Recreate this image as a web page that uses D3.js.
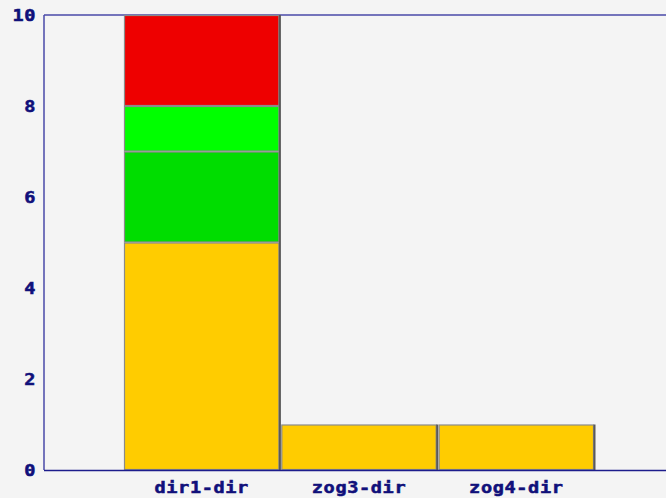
<!DOCTYPE html>
<html><head><meta charset="utf-8">
<script src="https://cdn.jsdelivr.net/npm/d3@7"></script>
<style>body{margin:0;background:#f4f4f4;}svg{display:block;}</style>
</head><body>
<script>
const categories = ["dir1-dir", "zog3-dir", "zog4-dir"];
const seriesNames = ["s1", "s2", "s3", "s4"];
const seriesColors = ["#ffcc00", "#00dd00", "#00ff00", "#ee0000"];
const s1 = [5, 1, 1];
const s2 = [2, 0, 0];
const s3 = [1, 0, 0];
const s4 = [2, 0, 0];
const yTicks = [0, 2, 4, 6, 8, 10];

const W = 666, H = 498;
const m = {left: 44, top: 15, right: 0, bottom: 28};
const svg = d3.select("body").append("svg").attr("width", W).attr("height", H);
svg.append("rect").attr("width", W).attr("height", H).attr("fill", "#f4f4f4");

const rows = categories.map((c, i) => ({cat: c, s1: s1[i], s2: s2[i], s3: s3[i], s4: s4[i]}));
const stack = d3.stack().keys(seriesNames)(rows);

const x = d3.scaleBand().domain(categories).range([124, 594]).paddingInner(0.012).paddingOuter(0);
const y = d3.scaleLinear().domain([0, 10]).range([470, 15]);

// frame
svg.append("line").attr("x1", m.left).attr("x2", W).attr("y1", 15).attr("y2", 15)
  .attr("stroke", "#4a4aa8").attr("stroke-width", 1.5);
svg.append("line").attr("x1", m.left).attr("x2", m.left).attr("y1", 15).attr("y2", 470)
  .attr("stroke", "#4a4aa8").attr("stroke-width", 1.5);

const g = svg.append("g");
stack.forEach((layer, li) => {
  layer.forEach((d, i) => {
    if (d[1] - d[0] <= 0) return;
    const x0 = x(categories[i]), w = x.bandwidth();
    g.append("rect")
      .attr("x", x0 + 0.5).attr("y", y(d[1]) + 0.5)
      .attr("width", w - 1).attr("height", y(d[0]) - y(d[1]) - 1)
      .attr("fill", seriesColors[li]).attr("stroke", "#8a8a8a").attr("stroke-width", 1.2);
  });
});
// right shadow per bar
categories.forEach((c, i) => {
  const tot = s1[i] + s2[i] + s3[i] + s4[i];
  g.append("rect").attr("x", x(c) + x.bandwidth() - 0.5).attr("y", y(tot))
    .attr("width", 2).attr("height", y(0) - y(tot)).attr("fill", "#5a5a5a");
});

// bottom axis
svg.append("line").attr("x1", m.left).attr("x2", W).attr("y1", 470.5).attr("y2", 470.5)
  .attr("stroke", "#1c1c8c").attr("stroke-width", 1.5);

const font = "'DejaVu Sans Mono', 'Liberation Mono', monospace";
function styleText(sel) {
  sel.attr("font-family", font).attr("font-weight", "bold").attr("font-size", 15)
    .attr("letter-spacing", 0.5)
    .attr("fill", "#10107a").attr("stroke", "#10107a").attr("stroke-width", 0.5);
}
svg.append("g").selectAll("text").data(yTicks).join("text")
  .attr("transform", d => `translate(36,${y(d) + 1}) scale(1.24,1)`)
  .attr("dy", "0.36em").attr("text-anchor", "end")
  .call(styleText).text(d => d);

svg.append("g").selectAll("text").data(categories).join("text")
  .attr("transform", d => `translate(${x(d) + x.bandwidth() / 2},493) scale(1.24,1)`)
  .attr("text-anchor", "middle")
  .call(styleText).text(d => d);
</script>
</body></html>
